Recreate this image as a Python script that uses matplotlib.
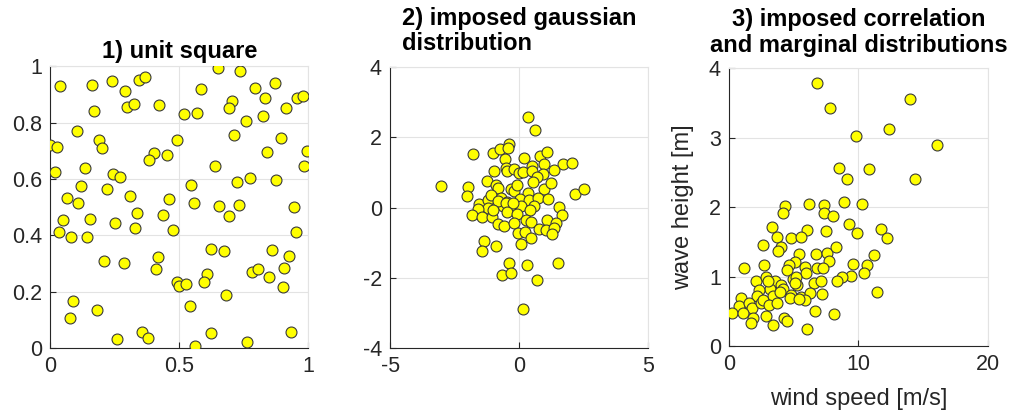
import matplotlib
matplotlib.use("Agg")
import matplotlib.pyplot as plt

plt.rcParams['font.family'] = ['Liberation Sans', 'DejaVu Sans']

# 1) unit square
sq_x = [0.038, 0.160, 0.238, 0.290, 0.344, 0.366, 0.169, 0.298, 0.324, 0.421,
        0.105, 0.000, 0.025, 0.188, 0.199, 0.492, 0.401, 0.383, 0.453, 0.019,
        0.133, 0.242, 0.271, 0.119, 0.219, 0.065, 0.107, 0.310, 0.461, 0.651,
        0.736, 0.583, 0.793, 0.871, 0.703, 0.694, 0.832, 0.955, 0.981, 0.914,
        0.517, 0.570, 0.760, 0.824, 0.713, 0.893, 0.841, 0.994, 0.638, 0.982,
        0.544, 0.722, 0.775, 0.875, 0.556, 0.655, 0.731, 0.943, 0.049, 0.153,
        0.252, 0.337, 0.437, 0.033, 0.080, 0.143, 0.329, 0.476, 0.209, 0.284,
        0.419, 0.410, 0.490, 0.500, 0.089, 0.182, 0.075, 0.257, 0.357, 0.380,
        0.691, 0.952, 0.623, 0.674, 0.859, 0.925, 0.606, 0.595, 0.781, 0.805,
        0.847, 0.907, 0.902, 0.526, 0.682, 0.541, 0.624, 0.764, 0.934, 0.562]
sq_y = [0.931, 0.934, 0.948, 0.912, 0.952, 0.962, 0.842, 0.857, 0.866, 0.863,
        0.771, 0.722, 0.714, 0.738, 0.709, 0.738, 0.692, 0.666, 0.684, 0.624,
        0.638, 0.618, 0.607, 0.575, 0.566, 0.531, 0.516, 0.540, 0.528, 0.995,
        0.982, 0.920, 0.925, 0.942, 0.878, 0.853, 0.887, 0.889, 0.896, 0.851,
        0.830, 0.835, 0.805, 0.824, 0.755, 0.747, 0.695, 0.698, 0.647, 0.645,
        0.579, 0.590, 0.605, 0.597, 0.514, 0.504, 0.509, 0.502, 0.453, 0.459,
        0.443, 0.478, 0.473, 0.412, 0.393, 0.393, 0.426, 0.419, 0.308, 0.301,
        0.322, 0.280, 0.235, 0.220, 0.166, 0.135, 0.105, 0.031, 0.058, 0.034,
        0.468, 0.412, 0.351, 0.345, 0.349, 0.328, 0.262, 0.235, 0.270, 0.280,
        0.253, 0.283, 0.218, 0.226, 0.187, 0.149, 0.052, 0.022, 0.058, 0.007]

# 2) imposed gaussian distribution
g_x = [0.33, 0.61, -1.78, -1.01, -0.75, -0.39, -0.43, 0.19, 0.79, 1.09,
       -0.57, 0.94, 1.69, 2.05, -0.97, -0.52, -0.47, -0.21, -0.02, 0.16,
       0.49, 0.51, 0.92, 1.36, 0.67, 0.54, -3.03, -1.97, -2.04, -1.27,
       -0.91, -0.83, -0.32, -0.21, -0.07, 0.33, 0.97, 1.21, 2.14, 2.51,
       -1.55, -1.20, -1.10, -0.70, -0.64, -0.49, 0.04, 0.39, 0.72, 1.12,
       1.54, 0.56, 0.05, -0.36, -1.20, -1.61, -0.81, -0.53, -0.23, -1.83,
       -1.43, -1.07, -1.03, -0.49, -0.07, 0.41, 1.64, -0.84, -0.58, -0.22,
       0.25, 0.45, 1.09, 1.42, 0.76, 1.02, 1.33, -0.04, 0.22, 0.45,
       1.28, -1.36, -0.90, -1.45, 0.08, -0.41, 0.29, 1.49, -0.68, -0.32,
       0.70, 0.14]
g_y = [2.59, 2.22, 1.52, 1.54, 1.66, 1.80, 1.70, 1.42, 1.48, 1.59,
       1.37, 1.24, 1.25, 1.27, 1.03, 1.12, 1.05, 1.11, 0.99, 1.01,
       1.17, 1.04, 0.95, 1.07, 0.86, 0.72, 0.61, 0.58, 0.34, 0.76,
       0.64, 0.56, 0.52, 0.47, 0.63, 0.40, 0.52, 0.69, 0.38, 0.54,
       0.11, 0.21, 0.37, 0.28, 0.04, 0.17, 0.23, 0.22, 0.28, 0.24,
       0.02, 0.04, 0.04, 0.02, -0.02, -0.05, 0.19, 0.13, 0.12, -0.20,
       -0.26, -0.28, -0.08, -0.14, -0.19, -0.07, -0.21, -0.48, -0.53, -0.45,
       -0.36, -0.40, -0.36, -0.44, -0.60, -0.64, -0.58, -0.74, -0.70, -0.87,
       -0.76, -0.96, -1.09, -1.25, -1.03, -1.57, -1.65, -1.57, -1.93, -1.87,
       -2.07, -2.89]

# 3) imposed correlation and marginal distributions
wind = [6.82, 14.00, 7.81, 12.38, 9.82, 16.12, 8.50, 10.85, 9.10, 14.40,
        4.32, 4.14, 6.16, 7.36, 7.32, 8.06, 8.91, 10.31, 9.30, 3.29,
        6.05, 7.47, 9.88, 3.72, 4.78, 5.58, 2.59, 4.01, 3.78, 5.38,
        6.70, 7.60, 8.27, 7.71, 5.07, 4.63, 4.47, 5.87, 5.95, 6.82,
        7.24, 9.59, 10.70, 10.47, 9.41, 8.74, 8.37, 11.76, 12.20, 11.19,
        11.45, 2.69, 1.14, 2.07, 2.84, 3.54, 4.01, 4.14, 3.13, 2.33,
        4.91, 5.17, 5.27, 6.54, 7.09, 2.17, 3.36, 3.93, 4.78, 4.71,
        5.58, 6.28, 7.16, 5.89, 5.43, 0.88, 0.75, 1.55, 1.76, 2.43,
        2.59, 3.08, 3.67, 0.19, 1.09, 1.86, 1.68, 2.84, 3.41, 4.26,
        4.45, 6.62, 8.09, 6.00, 3.02, 5.09]
wave = [3.78, 3.55, 3.43, 3.12, 3.03, 2.89, 2.57, 2.55, 2.41, 2.40,
        2.02, 1.91, 2.05, 2.03, 1.91, 1.87, 2.07, 2.05, 1.75, 1.71,
        1.67, 1.66, 1.63, 1.57, 1.55, 1.57, 1.46, 1.43, 1.37, 1.33,
        1.33, 1.34, 1.43, 1.23, 1.21, 1.16, 1.10, 1.14, 1.05, 1.13,
        1.12, 1.18, 1.17, 1.05, 1.01, 0.99, 0.94, 1.69, 1.56, 1.31,
        0.78, 1.17, 1.12, 0.94, 0.99, 0.93, 0.88, 0.82, 0.82, 0.81,
        0.96, 0.99, 0.88, 0.91, 0.94, 0.72, 0.72, 0.78, 0.73, 0.69,
        0.70, 0.76, 0.75, 0.66, 0.67, 0.69, 0.58, 0.62, 0.54, 0.62,
        0.66, 0.59, 0.62, 0.47, 0.48, 0.40, 0.33, 0.43, 0.30, 0.41,
        0.36, 0.50, 0.46, 0.25, 0.93, 0.91]

W, H = 1018, 420
fig = plt.figure(figsize=(W / 100, H / 100), dpi=100)

def make_axes(left_px, right_px, top_px, bottom_px):
    return fig.add_axes([left_px / W, 1 - bottom_px / H,
                         (right_px - left_px) / W, (bottom_px - top_px) / H])

def style(ax, xlim, ylim, xticks, yticks, xlabels, ylabels):
    ax.set_xlim(xlim)
    ax.set_ylim(ylim)
    ax.set_xticks(xticks)
    ax.set_yticks(yticks)
    ax.set_xticklabels(xlabels)
    ax.set_yticklabels(ylabels)
    ax.grid(True, color='#e3e3e3', linewidth=0.8)
    ax.set_axisbelow(True)
    for s in ['top', 'right']:
        ax.spines[s].set_color('#e3e3e3')
        ax.spines[s].set_linewidth(0.8)
    for s in ['left', 'bottom']:
        ax.spines[s].set_color('#262626')
        ax.spines[s].set_linewidth(0.8)
    ax.tick_params(direction='in', length=4, width=0.8, colors='#262626',
                   labelsize=15.5, pad=6, top=False, right=False)

mk = dict(s=62, c='#ffff00', edgecolors='#3a3a3a', linewidths=0.8, zorder=3)

ax1 = make_axes(50.3, 308.3, 66.4, 348)
ax1.scatter(sq_x, sq_y, **mk)
style(ax1, (0, 1), (0, 1), [0, 0.5, 1], [0, 0.2, 0.4, 0.6, 0.8, 1],
      ['0', '0.5', '1'], ['0', '0.2', '0.4', '0.6', '0.8', '1'])
ax1.set_title('1) unit square', fontsize=17, fontweight='bold', pad=6)

ax2 = make_axes(390.3, 648.3, 67.1, 347.9)
ax2.scatter(g_x, g_y, **mk)
style(ax2, (-5, 5), (-4, 4), [-5, 0, 5], [-4, -2, 0, 2, 4],
      ['-5', '0', '5'], ['-4', '-2', '0', '2', '4'])
ax2.set_title('2) imposed gaussian\ndistribution', multialignment='left',
              fontsize=17, fontweight='bold', pad=12, linespacing=1.15)

ax3 = make_axes(729.3, 987.5, 68.2, 346)
ax3.scatter(wind, wave, **mk)
style(ax3, (0, 20), (0, 4), [0, 10, 20], [0, 1, 2, 3, 4],
      ['0', '10', '20'], ['0', '1', '2', '3', '4'])
ax3.set_title('3) imposed correlation\nand marginal distributions',
              fontsize=17, fontweight='bold', pad=12, linespacing=1.15)
ax3.set_xlabel('wind speed [m/s]', fontsize=17, color='#262626', labelpad=9)
ax3.set_ylabel('wave height [m]', fontsize=17, color='#262626', labelpad=11)

fig.savefig('out.png', dpi=100)
